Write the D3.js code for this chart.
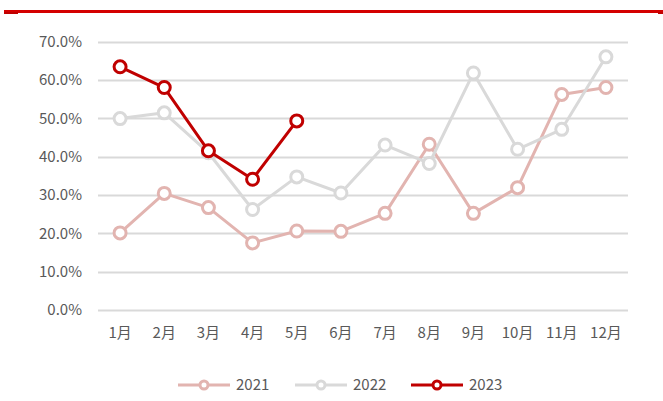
<!DOCTYPE html>
<html>
<head>
<meta charset="utf-8">
<script src="https://cdn.jsdelivr.net/npm/d3@7"></script>
<style>
  body { margin: 0; background: #fff; }
  text { font-family: "Noto Sans CJK SC", "Noto Sans", sans-serif; }
</style>
</head>
<body>
<svg id="canvas" width="663" height="401"></svg>
<script>
var months = ["1月","2月","3月","4月","5月","6月","7月","8月","9月","10月","11月","12月"];
var yTicks = [0, 0.1, 0.2, 0.3, 0.4, 0.5, 0.6, 0.7];
var v2021 = [0.201, 0.304, 0.267, 0.175, 0.206, 0.205, 0.252, 0.432, 0.252, 0.319, 0.562, 0.580];
var v2022 = [0.499, 0.514, 0.410, 0.262, 0.347, 0.305, 0.430, 0.382, 0.618, 0.419, 0.471, 0.660];
var v2023 = [0.634, 0.580, 0.415, 0.341, 0.493];
var seriesNames = ["2021", "2022", "2023"];
var seriesColors = ["#E2B4B0", "#D9D9D9", "#C00000"];

var svg = d3.select('#canvas');

// red rule at the top
svg.append('rect').attr('x', 4).attr('y', 10).attr('width', 659).attr('height', 3).attr('fill', '#D40000');
svg.append('rect').attr('x', 4).attr('y', 12).attr('width', 14).attr('height', 2).attr('fill', '#C00000');
svg.append('rect').attr('x', 658).attr('y', 12).attr('width', 5).attr('height', 2).attr('fill', '#C00000');

var x = d3.scaleBand().domain(months).range([98, 628]);
var y = d3.scaleLinear().domain([0, 0.7]).range([310, 41.5]);

// grid
svg.append('g').selectAll('line').data(yTicks).join('line')
  .attr('x1', 98).attr('x2', 628)
  .attr('y1', d => Math.round(y(d)) + 0.5).attr('y2', d => Math.round(y(d)) + 0.5)
  .attr('stroke', '#D9D9D9').attr('stroke-width', 2);

// y axis
var yAxis = svg.append('g').attr('transform', 'translate(82,0)')
  .call(d3.axisLeft(y).tickValues(yTicks).tickFormat(d3.format('.1%')).tickSize(0).tickPadding(0));
yAxis.select('.domain').remove();
yAxis.selectAll('text').attr('font-size', 15).attr('fill', '#595959')
  .attr('font-family', '"Noto Sans", "DejaVu Sans", sans-serif');

// x axis
var xAxis = svg.append('g').attr('transform', 'translate(0,327)')
  .call(d3.axisBottom(x).tickSize(0).tickPadding(0));
xAxis.select('.domain').remove();
xAxis.selectAll('text').attr('font-size', 15).attr('fill', '#595959').attr('dy', '0.75em');

var lineGen = d3.line().x((d, i) => x(months[i]) + x.bandwidth() / 2).y(d => y(d));

[v2021, v2022, v2023].forEach(function(vals, k) {
  var g = svg.append('g');
  g.append('path').attr('d', lineGen(vals)).attr('fill', 'none')
    .attr('stroke', seriesColors[k]).attr('stroke-width', 3).attr('stroke-linejoin', 'round');
  g.selectAll('circle').data(vals).join('circle')
    .attr('cx', (d, i) => x(months[i]) + x.bandwidth() / 2)
    .attr('cy', d => y(d))
    .attr('r', 6).attr('fill', '#fff')
    .attr('stroke', seriesColors[k]).attr('stroke-width', 3);
});

// legend
var legendX = [178, 295, 411];
var legend = svg.append('g');
seriesNames.forEach(function(name, k) {
  var lg = legend.append('g').attr('transform', 'translate(' + legendX[k] + ',385)');
  lg.append('line').attr('x1', 0).attr('x2', 52).attr('y1', 0).attr('y2', 0)
    .attr('stroke', seriesColors[k]).attr('stroke-width', 3);
  lg.append('circle').attr('cx', 26).attr('cy', 0).attr('r', 4)
    .attr('fill', '#fff').attr('stroke', seriesColors[k]).attr('stroke-width', 3);
  lg.append('text').attr('x', 58).attr('y', 0).attr('dy', '0.35em')
    .attr('font-size', 15).attr('fill', '#595959')
    .attr('font-family', '"Noto Sans", "DejaVu Sans", sans-serif').text(name);
});
</script>
</body>
</html>
